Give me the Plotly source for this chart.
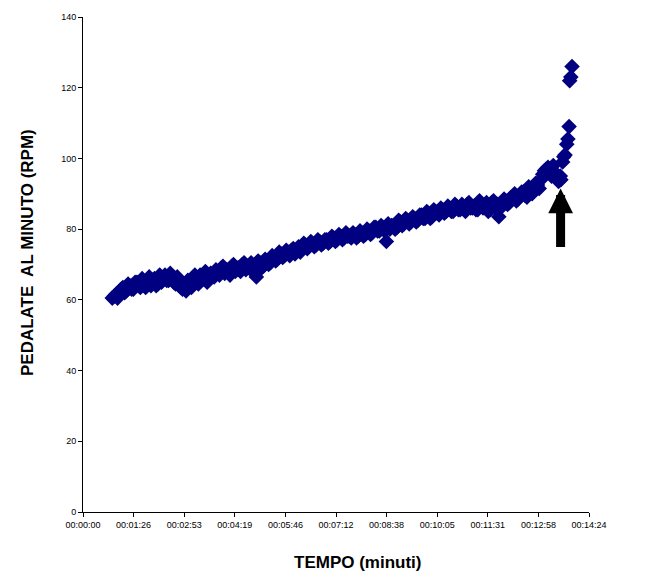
import plotly.graph_objects as go

# time in seconds; two interleaved sample sets, each every 6 s
t_step = 6
rpm_a = [
    60.5, 61.5, 62, 63.5, 62.5, 64, 63, 65, 63.5, 64.5,
    65.5, 64, 66, 64.5, 65, 67, 65.5, 66.5, 64.5, 65,
    63, 62.5, 64.5, 66, 65.5, 67, 66, 65, 67.5, 66.5,
    68, 69, 67.5, 68.5, 69.5, 68, 69, 70, 68.5, 69,
    69.5, 66.5, 70.5, 69.5, 71, 70.5, 72, 71.5, 73, 72.5,
    73.5, 74, 73, 75, 74.5, 75.5, 75, 76, 75.5, 76.5,
    76, 77, 76.5, 77.5, 77, 78, 77.5, 78, 77.5, 78.5,
    78, 79, 78.5, 79.5, 79, 80.5, 79.5, 80.5, 76.5, 80,
    81, 80.5, 82, 81.5, 82.5, 82, 83, 82.5, 84, 83,
    84.5, 83.5, 85, 84, 85.5, 85, 86, 85, 86.5, 85.5,
    86, 87, 86, 86.5, 85.5, 87, 86.5, 85, 87.5, 86,
    83.5, 87, 88, 87.5, 89, 88, 89.5, 90.5, 89, 91,
    91.5, 92.5, 94, 96.5, 97.5, 95, 96, 93.5,
]
rpm_b = [
    61, 60.5, 63, 62, 64.5, 63, 65, 64, 66, 63.5,
    66.5, 65.5, 64, 67, 66, 65.5, 67.5, 65, 66.5, 63.5,
    64, 65.5, 63.5, 67, 64.5, 66, 68, 66.5, 67, 68.5,
    67, 69.5, 68.5, 67, 70, 69, 68, 70.5, 69.5, 70.5,
    67.5, 71, 69, 71.5, 70, 72.5, 71, 73.5, 72, 74,
    72.5, 74.5, 74, 73.5, 76, 74.5, 76.5, 75, 77, 75.5,
    77, 76, 78, 76.5, 78.5, 77, 79, 78, 79, 77.5,
    79.5, 78, 80, 78.5, 80.5, 79.5, 81, 79.5, 81.5, 81,
    80, 82.5, 81, 83, 81.5, 83.5, 82, 84, 83, 85,
    83, 85.5, 84.5, 86, 84.5, 86.5, 85, 87, 85.5, 87,
    85, 87.5, 86, 85.5, 88, 86, 87.5, 85.5, 88, 87,
    86, 88.5, 87, 89, 90, 88.5, 90.5, 89.5, 92, 90,
    93, 91.5, 95.5, 97, 96, 98, 94.5, 95,
]
t_a = [50 + t_step * i for i in range(len(rpm_a))]
t_b = [53 + t_step * i for i in range(len(rpm_b))]

t_tail = [816, 819, 821, 823, 826, 828, 830, 831, 833, 835]
rpm_tail = [94, 99, 100.5, 101, 104, 105.5, 109, 122, 123, 126]

time_s = t_a + t_b + t_tail
rpm = rpm_a + rpm_b + rpm_tail

tick_vals = [0, 86.4, 172.8, 259.2, 345.6, 432, 518.4, 604.8, 691.2, 777.6, 864]
tick_text = ["00:00:00", "00:01:26", "00:02:53", "00:04:19", "00:05:46", "00:07:12",
             "00:08:38", "00:10:05", "00:11:31", "00:12:58", "00:14:24"]
y_ticks = [0, 20, 40, 60, 80, 100, 120, 140]

fig = go.Figure()
fig.add_trace(go.Scatter(
    x=time_s, y=rpm, mode="markers",
    marker=dict(symbol="diamond", size=12, color="#000080", line=dict(width=0)),
    showlegend=False,
))

fig.update_layout(
    width=661, height=575,
    margin=dict(l=83, r=72, t=15, b=63),
    paper_bgcolor="white", plot_bgcolor="white",
    font=dict(family="Liberation Sans, Arial, sans-serif", color="black"),
    xaxis=dict(
        range=[0, 864], tickvals=tick_vals, ticktext=tick_text,
        showgrid=False, zeroline=False, showline=True, linecolor="black", linewidth=1,
        ticks="outside", ticklen=4, tickcolor="black", tickfont=dict(size=9),
    ),
    yaxis=dict(
        range=[0, 140], tickvals=y_ticks,
        showgrid=False, zeroline=False, showline=True, linecolor="black", linewidth=1,
        ticks="outside", ticklen=4, tickcolor="black", tickfont=dict(size=9),
    ),
    annotations=[
        dict(text="<b>TEMPO (minuti)</b>", xref="paper", yref="paper",
             x=(357 - 83) / 506, y=-(563 - 512) / 497, showarrow=False,
             font=dict(size=17), xanchor="center", yanchor="middle"),
        dict(text="<b>PEDALATE\u00a0 AL MINUTO (RPM)</b>", xref="paper", yref="paper",
             x=-(83 - 27) / 506, y=(512 - 252) / 497, showarrow=False, textangle=-90,
             font=dict(size=17), xanchor="center", yanchor="middle"),
        dict(x=815.5, y=91.5, xref="x", yref="y", text="", showarrow=True,
             ax=0, ay=60, axref="pixel", ayref="pixel",
             arrowhead=2, arrowsize=0.55, arrowwidth=9, arrowcolor="black"),
    ],
)

fig.write_html("out.html")
